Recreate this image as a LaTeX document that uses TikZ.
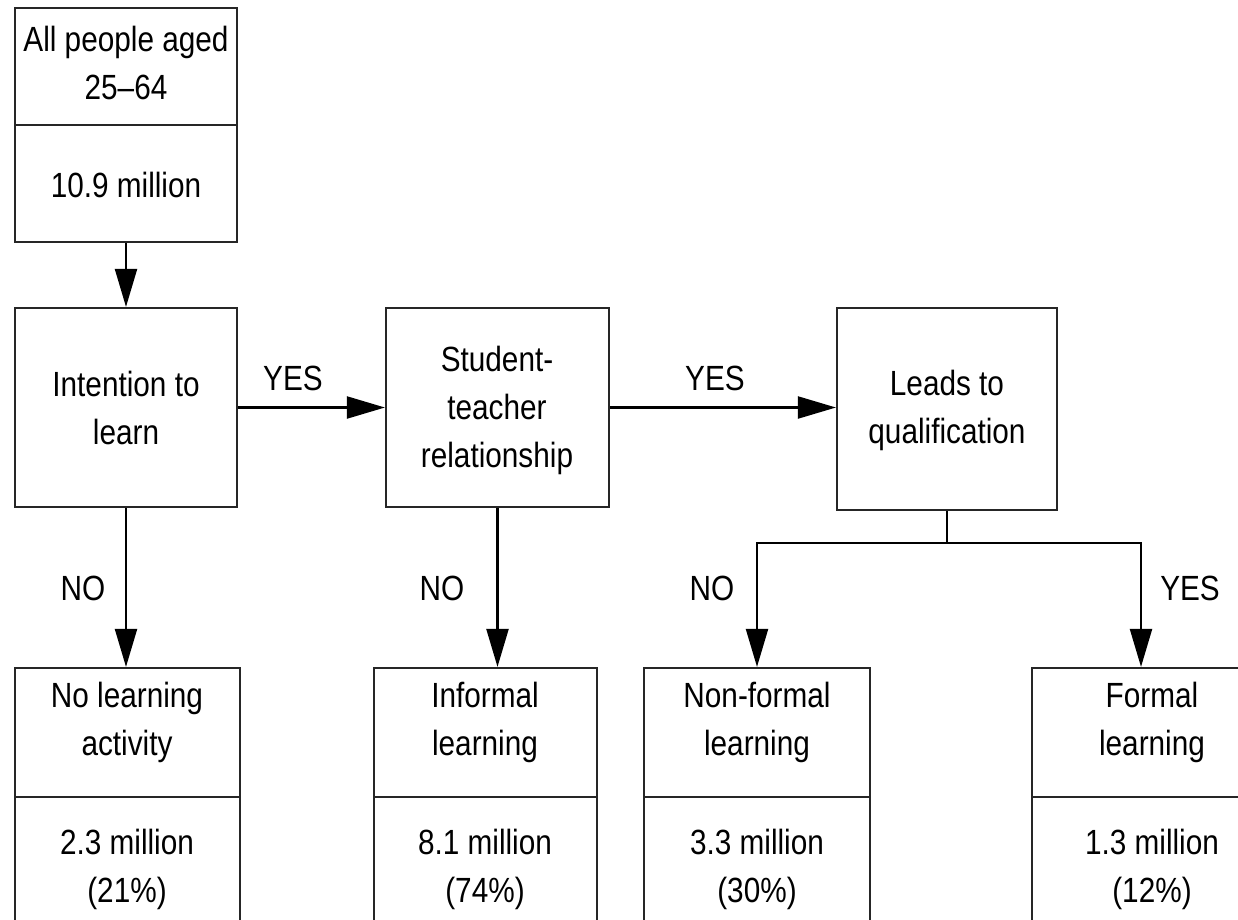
\documentclass[tikz,border=0pt]{standalone}
\usepackage{fontspec}
\setmainfont[FakeStretch=0.85]{Liberation Sans}
\usetikzlibrary{arrows.meta}
\begin{document}
\begin{tikzpicture}[x=1pt,y=-1pt,
  box/.style={draw=black!85, line width=2.2pt, rectangle, inner sep=0pt},
  lbl/.style={font=\fontsize{35}{48}\selectfont, align=center, inner sep=0pt},
  conn/.style={draw=black, line width=2.2pt, -{Triangle[length=38pt,width=22pt]}},
  plain/.style={draw=black, line width=2.2pt}
]
\useasboundingbox (0,0) rectangle (1238,919);
\clip (0,0) rectangle (1238,919);
\fill[white] (0,0) rectangle (1238,919);

% boxes
\node[box, minimum width=222pt, minimum height=117pt] (topA) at (126,66.5) {};
\node[box, minimum width=222pt, minimum height=117pt] (topB) at (126,183.5) {};
\node[box, minimum width=222pt, minimum height=199pt] (intent) at (126,407.5) {};
\node[box, minimum width=223pt, minimum height=199pt] (stud) at (497.5,407.5) {};
\node[box, minimum width=220pt, minimum height=202pt] (leads) at (947,409) {};

\node[box, minimum width=225pt, minimum height=129pt] (noA) at (127.5,732.5) {};
\node[box, minimum width=225pt, minimum height=143pt] (noB) at (127.5,868.5) {};
\node[box, minimum width=223pt, minimum height=129pt] (infA) at (485.5,732.5) {};
\node[box, minimum width=223pt, minimum height=143pt] (infB) at (485.5,868.5) {};
\node[box, minimum width=226pt, minimum height=129pt] (nonA) at (757,732.5) {};
\node[box, minimum width=226pt, minimum height=143pt] (nonB) at (757,868.5) {};
\node[box, minimum width=218pt, minimum height=129pt] (forA) at (1141,732.5) {};
\node[box, minimum width=218pt, minimum height=143pt] (forB) at (1141,868.5) {};

% texts
\node[lbl] (ttopA) at (126,63) {All people aged\\25–64};
\node[lbl] (ttopB) at (126,185) {10.9 million};
\node[lbl] (tint) at (126,408) {Intention to\\learn};
\node[lbl] (tstu) at (497,410) {Student-\\teacher\\relationship};
\node[lbl] (tlead) at (947,410) {Leads to\\qualification};
\node[lbl] (tnoA) at (127,722) {No learning\\activity};
\node[lbl] (tnoB) at (127,869) {2.3 million\\(21\%)};
\node[lbl] (tinfA) at (485,722) {Informal\\learning};
\node[lbl] (tinfB) at (485,869) {8.1 million\\(74\%)};
\node[lbl] (tnonA) at (757,722) {Non-formal\\learning};
\node[lbl] (tnonB) at (757,869) {3.3 million\\(30\%)};
\node[lbl] (tforA) at (1152,722) {Formal\\learning};
\node[lbl] (tforB) at (1152,869) {1.3 million\\(12\%)};

% connectors
\draw[conn] (topB.south) -- (intent.north);
\draw[conn] (intent.east) -- (stud.west);
\draw[conn] (stud.east) -- (stud.east -| leads.west);
\draw[conn] (intent.south) -- (intent.south |- noA.north);
\draw[conn] (stud.south) -- (stud.south |- infA.north);
\coordinate (split) at ([yshift=-32pt]leads.south);
\draw[plain] (leads.south) -- (split);
\draw[conn] (split) -| (nonA.north);
\draw[conn] (split) -| (forA.north);

% connector labels
\node[lbl] (yes1) at (293,378) {YES};
\node[lbl] (yes2) at (715,378) {YES};
\node[lbl] (no1) at (83,588) {NO};
\node[lbl] (no2) at (442,588) {NO};
\node[lbl] (no3) at (712,588) {NO};
\node[lbl] (yes3) at (1190,588) {YES};
\end{tikzpicture}
\end{document}
